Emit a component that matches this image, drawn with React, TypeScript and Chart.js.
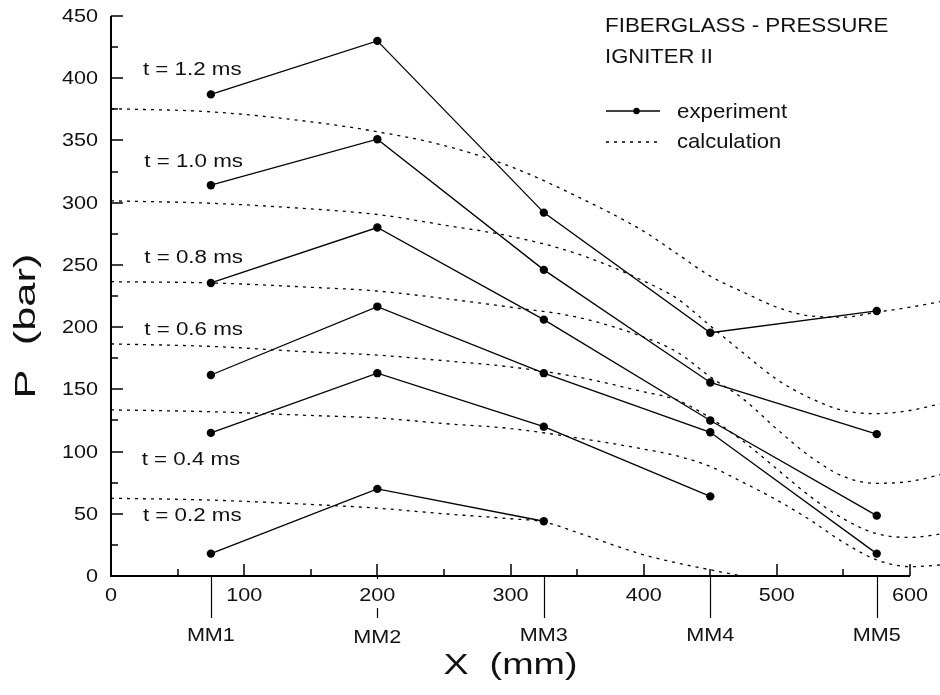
import React, { useEffect, useRef } from "react";
import { Chart, registerables } from "chart.js";

Chart.register(...registerables);

// ---- data ----
const mmPositions = [75, 200, 325, 450, 575];
const mmLabels = ["MM1", "MM2", "MM3", "MM4", "MM5"];

const exp12 = [387, 430, 292, 195.5, 213];
const exp10 = [314, 351, 246, 155.5, 114];
const exp08 = [235.5, 280, 206, 125, 48.5];
const exp06 = [161.5, 216.5, 163, 115.5, 18];
const exp04 = [115, 163, 120, 64];
const exp02 = [18, 70, 44];

const calcX = [0, 75, 150, 200, 250, 300, 350, 400, 425, 450, 475, 500, 525, 550, 575, 600, 625];
const calc12 = [375.5, 373, 365, 357, 346, 329, 305, 277, 259, 241, 228, 216, 209, 208, 212, 216, 221];
const calc10 = [301.5, 299.5, 295, 290.5, 282, 273, 259, 237, 223, 201, 179, 158, 143, 133, 130.5, 133, 139];
const calc08 = [236.5, 235.5, 232, 229, 223, 216, 208, 192, 180, 160, 142, 118, 96, 80, 74.5, 76, 82];
const calc06 = [186.5, 184.5, 180, 177.5, 173, 168, 160, 148, 141.5, 127, 108, 86, 64, 46, 34, 31, 34];
const calc04 = [133.5, 132, 129, 127, 122.5, 118.5, 111, 102, 96.5, 88, 75, 61, 45, 27, 13, 7.5, 9];
const calc02X = [0, 75, 150, 200, 250, 300, 325, 350, 400, 425, 450, 475, 500];
const calc02 = [62.5, 61, 57.5, 54.5, 50, 46, 43.5, 35, 17, 10.5, 5, 0, -3];

const timeLabels = ["t = 1.2 ms", "t = 1.0 ms", "t = 0.8 ms", "t = 0.6 ms", "t = 0.4 ms", "t = 0.2 ms"];
const timeLabelX = [24, 25, 25, 25, 23, 24];
const timeLabelY = [408, 334, 257, 199, 94, 49];

const xTicks = [0, 100, 200, 300, 400, 500, 600];
const xMinorTicks = [50, 150, 250, 350, 450, 550];
const yTicks = [0, 50, 100, 150, 200, 250, 300, 350, 400, 450];
const yMinorTicks = [25, 75, 125, 175, 225, 275, 325, 375, 425];
const xAxisEnd = 600;
const xViewMax = 622.5;

const titleLines = ["FIBERGLASS - PRESSURE", "IGNITER II"];
const legendLabels = ["experiment", "calculation"];
const xTitle = "X  (mm)";
const yTitle = "P  (bar)";

const FONT = '"Liberation Sans", Arial, Helvetica, sans-serif';
const INK = "#000";

function pts(xs: number[], ys: number[]) {
  return ys.map((y, i) => ({ x: xs[i], y }));
}

function text(
  ctx: CanvasRenderingContext2D,
  s: string,
  x: number,
  y: number,
  size: number,
  sx: number,
  align: CanvasTextAlign,
  rot = 0
) {
  ctx.save();
  ctx.translate(x, y);
  if (rot) ctx.rotate(rot);
  ctx.scale(sx, 1);
  ctx.font = `${size}px ${FONT}`;
  ctx.textAlign = align;
  ctx.textBaseline = "alphabetic";
  ctx.fillStyle = "#111";
  ctx.fillText(s, 0, 0);
  ctx.restore();
}

const overlay = {
  id: "overlay",
  beforeDatasetsDraw(chart: any) {
    const { ctx, chartArea, scales } = chart;
    const xs = scales.x;
    const ys = scales.y;
    const x0 = chartArea.left;
    const y0 = chartArea.bottom;
    ctx.save();
    ctx.strokeStyle = INK;
    ctx.lineCap = "butt";
    // MM markers below the axis
    ctx.lineWidth = 1.2;
    mmPositions.forEach((m) => {
      const px = Math.round(xs.getPixelForValue(m)) + 0.5;
      ctx.beginPath();
      ctx.moveTo(px, y0);
      ctx.lineTo(px, y0 + 42);
      ctx.stroke();
    });
    // x tick labels with white background
    xTicks.forEach((t) => {
      const px = xs.getPixelForValue(t);
      const w = String(t).length * 12 + 4;
      ctx.fillStyle = "#fff";
      ctx.fillRect(px - w / 2, y0 + 3, w, 29);
      text(ctx, String(t), px, y0 + 25, 18, 1.2, "center");
    });
    // axes
    ctx.lineWidth = 2;
    ctx.beginPath();
    ctx.moveTo(x0, ys.getPixelForValue(450));
    ctx.lineTo(x0, y0);
    ctx.lineTo(xs.getPixelForValue(xAxisEnd), y0);
    ctx.stroke();
    // ticks
    ctx.lineWidth = 1.5;
    xTicks.forEach((t) => {
      const px = Math.round(xs.getPixelForValue(t));
      ctx.beginPath();
      ctx.moveTo(px, y0);
      ctx.lineTo(px, y0 - 12);
      ctx.stroke();
    });
    xMinorTicks.forEach((t) => {
      const px = Math.round(xs.getPixelForValue(t));
      ctx.beginPath();
      ctx.moveTo(px, y0);
      ctx.lineTo(px, y0 - 7);
      ctx.stroke();
    });
    yTicks.forEach((t) => {
      const py = Math.round(ys.getPixelForValue(t));
      ctx.beginPath();
      ctx.moveTo(x0, py);
      ctx.lineTo(x0 + 12, py);
      ctx.stroke();
      text(ctx, String(t), x0 - 13, py + 6.4, 18, 1.2, "right");
    });
    yMinorTicks.forEach((t) => {
      const py = Math.round(ys.getPixelForValue(t));
      ctx.beginPath();
      ctx.moveTo(x0, py);
      ctx.lineTo(x0 + 7, py);
      ctx.stroke();
    });
    // MM labels
    mmLabels.forEach((l, i) => {
      const px = xs.getPixelForValue(mmPositions[i]);
      text(ctx, l, px, y0 + (i === 1 ? 67 : 65), 18, 1.2, "center");
    });
    ctx.restore();
  },
  afterDatasetsDraw(chart: any) {
    const { ctx, chartArea, scales } = chart;
    const xs = scales.x;
    const ys = scales.y;
    ctx.save();
    timeLabels.forEach((l, i) => {
      text(ctx, l, xs.getPixelForValue(timeLabelX[i]), ys.getPixelForValue(timeLabelY[i]) + 6.4, 18, 1.24, "left");
    });
    // title
    text(ctx, titleLines[0], 605, 32, 21, 1.065, "left");
    text(ctx, titleLines[1], 605, 63, 21, 1.05, "left");
    // legend
    ctx.strokeStyle = INK;
    ctx.lineWidth = 1.3;
    ctx.beginPath();
    ctx.moveTo(606, 111);
    ctx.lineTo(660, 111);
    ctx.stroke();
    ctx.fillStyle = INK;
    ctx.beginPath();
    ctx.arc(636.5, 111, 3.2, 0, Math.PI * 2);
    ctx.fill();
    ctx.setLineDash([3, 5]);
    ctx.beginPath();
    ctx.moveTo(606, 142);
    ctx.lineTo(662, 142);
    ctx.stroke();
    ctx.setLineDash([]);
    text(ctx, legendLabels[0], 677, 118, 21, 1.06, "left");
    text(ctx, legendLabels[1], 677, 148, 21, 1.05, "left");
    // axis titles
    const cx = (xs.getPixelForValue(0) + xs.getPixelForValue(xAxisEnd)) / 2;
    text(ctx, xTitle, cx, chartArea.bottom + 98, 29, 1.3, "center");
    text(ctx, yTitle, 35, (chartArea.top + chartArea.bottom) / 2 + 30, 29, 1.5, "center", -Math.PI / 2);
    ctx.restore();
  },
};

export default function App() {
  const ref = useRef<HTMLCanvasElement | null>(null);
  useEffect(() => {
    if (!ref.current) return;
    const expStyle = {
      borderColor: INK,
      backgroundColor: INK,
      borderWidth: 1.3,
      pointRadius: 4.2,
      pointHoverRadius: 4.2,
      pointBackgroundColor: INK,
      pointBorderWidth: 0,
      tension: 0,
      fill: false,
      clip: 6,
    };
    const calcStyle = {
      borderColor: INK,
      borderWidth: 1.3,
      borderDash: [3, 5],
      pointRadius: 0,
      cubicInterpolationMode: "monotone" as const,
      fill: false,
      clip: { left: 0, top: 0, right: 10, bottom: 0 },
    };
    const chart = new Chart(ref.current, {
      type: "line",
      data: {
        datasets: [
          { label: "calc 1.2", data: pts(calcX, calc12), ...calcStyle },
          { label: "calc 1.0", data: pts(calcX, calc10), ...calcStyle },
          { label: "calc 0.8", data: pts(calcX, calc08), ...calcStyle },
          { label: "calc 0.6", data: pts(calcX, calc06), ...calcStyle },
          { label: "calc 0.4", data: pts(calcX, calc04), ...calcStyle },
          { label: "calc 0.2", data: pts(calc02X, calc02), ...calcStyle },
          { label: "exp 1.2", data: pts(mmPositions, exp12), ...expStyle },
          { label: "exp 1.0", data: pts(mmPositions, exp10), ...expStyle },
          { label: "exp 0.8", data: pts(mmPositions, exp08), ...expStyle },
          { label: "exp 0.6", data: pts(mmPositions, exp06), ...expStyle },
          { label: "exp 0.4", data: pts(mmPositions, exp04), ...expStyle },
          { label: "exp 0.2", data: pts(mmPositions, exp02), ...expStyle },
        ] as any,
      },
      options: {
        animation: false,
        responsive: false,
        maintainAspectRatio: false,
        devicePixelRatio: 1,
        layout: { autoPadding: false, padding: { left: 111, right: 0, top: 16, bottom: 119 } },
        scales: {
          x: { type: "linear", min: 0, max: xViewMax, display: false },
          y: { type: "linear", min: 0, max: 450, display: false },
        },
        plugins: {
          legend: { display: false },
          tooltip: { enabled: false },
          title: { display: false },
        },
        events: [],
      },
      plugins: [overlay],
    });
    return () => chart.destroy();
  }, []);
  return (
    <div style={{ position: "absolute", left: 0, top: 0, width: 940, height: 695, background: "#fff" }}>
      <canvas ref={ref} width={940} height={695} style={{ width: 940, height: 695, display: "block" }} />
    </div>
  );
}
